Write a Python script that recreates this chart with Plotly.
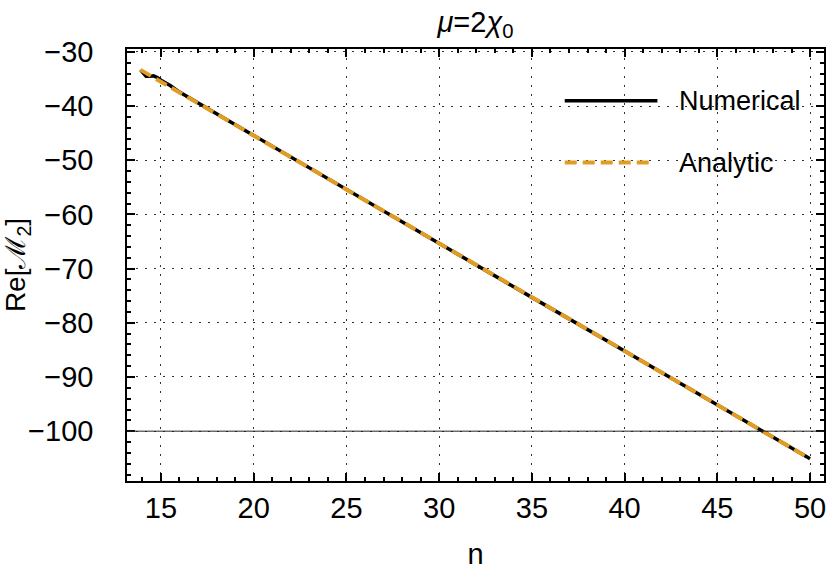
import plotly.graph_objects as go

# ---- data ----
n_numerical = [13.9, 14.05, 14.2, 14.4, 14.6, 14.8, 15.0, 15.5, 16, 20, 25, 30, 35, 40, 45, 50]
re_numerical = [-33.3, -34.0, -34.5, -34.5, -34.4, -34.7, -35.2, -36.2, -37.4, -45.4, -55.4,
                -65.3, -75.3, -85.2, -95.2, -105.1]
n_analytic = [13.9, 20, 30, 40, 50]
re_analytic = [-33.3, -45.4, -65.3, -85.2, -105.1]
baseline = -100
x_ticks = [15, 20, 25, 30, 35, 40, 45, 50]
y_ticks = [-30, -40, -50, -60, -70, -80, -90, -100]
series_names = ["Numerical", "Analytic"]

BLACK = "#000000"
ORANGE = "#E19C24"
FONT = "Liberation Sans, Arial, sans-serif"

fig = go.Figure()
fig.add_trace(go.Scatter(x=n_numerical, y=re_numerical, mode="lines",
                         line=dict(color=BLACK, width=3.5), name=series_names[0],
                         showlegend=False))
fig.add_trace(go.Scatter(x=n_analytic, y=re_analytic, mode="lines",
                         line=dict(color=ORANGE, width=4, dash="12px,6px"),
                         name=series_names[1], showlegend=False))
fig.add_hline(y=baseline, line=dict(color="#222", width=1))

axis_common = dict(
    showline=True, linecolor="black", linewidth=1.5, mirror="allticks",
    ticks="inside", ticklen=8, tickwidth=1.5, tickcolor="black",
    showgrid=True, gridcolor="#333", griddash="2px,7px", gridwidth=1,
    zeroline=False, tickfont=dict(size=29, color="black", family=FONT),
)
fig.update_xaxes(range=[13.17, 50.75], tickvals=x_ticks,
                 minor=dict(dtick=1, tick0=0, ticks="inside", ticklen=4, tickcolor="black", showgrid=False),
                 title=dict(text="n", font=dict(size=29, family=FONT, color="black"), standoff=22),
                 **axis_common)
fig.update_yaxes(range=[-109.2, -29.45], tickvals=y_ticks, ticklabelstandoff=26,
                 minor=dict(dtick=2, tick0=0, ticks="inside", ticklen=4, tickcolor="black", showgrid=False),
                 title=dict(text="Re[ℳ<sub>2</sub>]", font=dict(size=28, family=FONT, color="black"), standoff=0),
                 **axis_common)

# legend drawn manually (long sample lines like the original)
fig.add_shape(type="line", xref="paper", yref="paper", x0=0.628, x1=0.761, y0=0.880, y1=0.880,
              line=dict(color=BLACK, width=3.5))
fig.add_shape(type="line", xref="paper", yref="paper", x0=0.628, x1=0.754, y0=0.737, y1=0.737,
              line=dict(color=ORANGE, width=4, dash="12px,6px"))
for name, yy in zip(series_names, [0.880, 0.737]):
    fig.add_annotation(xref="paper", yref="paper", x=0.789, y=yy, text=name, showarrow=False,
                       xanchor="left", yanchor="middle",
                       font=dict(size=27, family=FONT, color="black"))

fig.update_layout(
    width=830, height=570,
    margin=dict(l=127, r=4, t=49, b=89),
    paper_bgcolor="white", plot_bgcolor="white",
    title=dict(text="<i>μ</i>=2<i>χ</i><sub>0</sub>", xref="paper", x=0.5, xanchor="center",
               y=0.962, yanchor="middle",
               font=dict(size=29, family=FONT, color="black")),
    font=dict(family=FONT),
)
fig.write_html("out.html", config={"displayModeBar": False},
               post_script="document.body.style.margin='0';")
